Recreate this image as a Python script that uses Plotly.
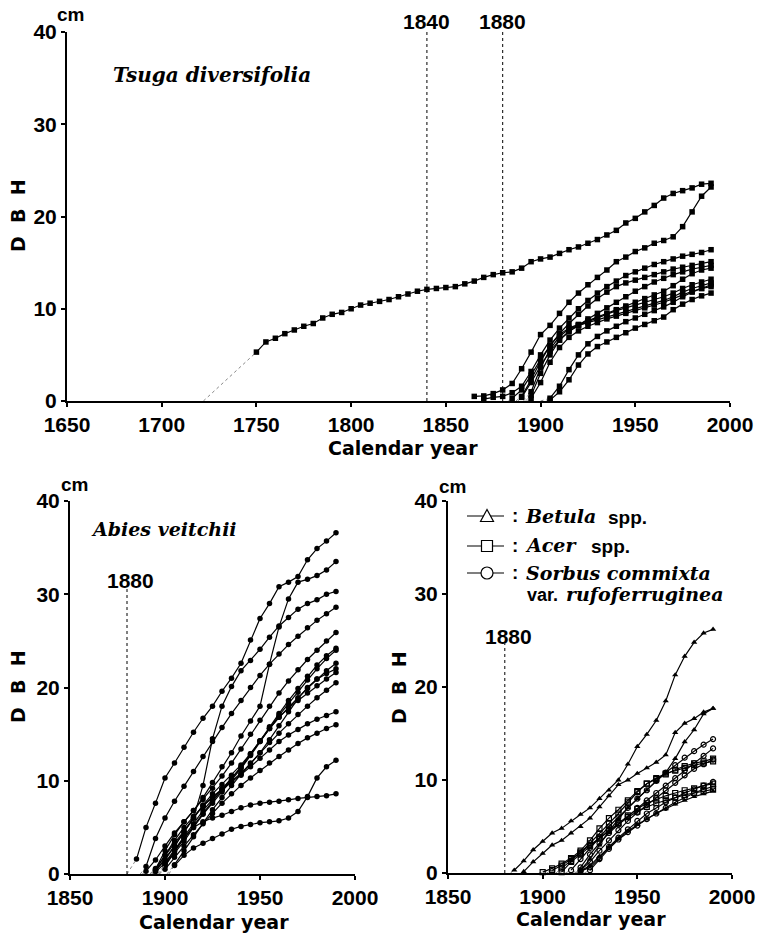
import plotly.graph_objects as go

W, H = 762, 935


def px(x):
    return x / W


def py(y):
    return 1 - y / H


# ---------------- DATA (DBH in cm, 5-year steps from the start year) ----------------
# Top panel: Tsuga diversifolia
TSUGA_START = [1750, 1865, 1870, 1885, 1890, 1890, 1895, 1895, 1895, 1905, 1905]
TSUGA_ORIGIN = [1722, None, None, 1883, 1888, 1887, 1892, 1891, 1893, 1903, 1900]
tsuga_1 = [5.3, 6.4, 6.8, 7.3, 7.7, 8.1, 8.4, 9.0, 9.4, 9.6, 10.0,
           10.4, 10.6, 10.8, 11.0, 11.3, 11.6, 11.9, 12.1, 12.2, 12.3,
           12.4, 12.7, 13.0, 13.4, 13.7, 13.9, 14.0, 14.4, 15.1, 15.4,
           15.6, 16.0, 16.4, 16.7, 17.1, 17.5, 18.0, 18.5, 19.3, 19.8,
           20.5, 21.2, 22.0, 22.5, 22.8, 23.1, 23.5, 23.6]
tsuga_2 = [0.5, 0.55, 0.8, 1.2, 1.9, 3.5, 5.3, 7.2, 8.2, 9.5, 10.7, 11.7, 12.6,
           13.4, 14.2, 15.1, 15.6, 16.2, 16.6, 17.1, 17.4, 17.8, 18.9, 20.5, 22.2, 23.2]
tsuga_3 = [0.2, 0.4, 0.5, 0.9, 1.6, 3.2, 5.0, 6.6, 7.9, 9.0, 10.0, 10.9, 11.7,
           12.4, 13.0, 13.6, 14.0, 14.4, 14.8, 15.1, 15.4, 15.7, 15.9, 16.1, 16.4]
tsuga_4 = [0.3, 1.2, 2.8, 4.5, 6.0, 7.3, 8.4, 9.4, 10.3, 11.1, 11.8, 12.4, 12.8,
           13.1, 13.4, 13.7, 14.0, 14.3, 14.5, 14.7, 14.9, 15.1]
tsuga_5 = [0.4, 2.0, 3.8, 5.4, 6.6, 7.5, 8.2, 8.9, 9.5, 10.1, 10.7, 11.3, 11.9,
           12.4, 12.9, 13.3, 13.7, 14.0, 14.3, 14.5, 14.7]
tsuga_6 = [0.5, 2.3, 4.3, 6.0, 7.2, 7.9, 8.3, 8.7, 9.1, 9.5, 9.9, 10.3, 10.7,
           11.1, 11.5, 11.9, 12.5, 13.2, 13.8, 14.2, 14.4]
tsuga_7 = [0.6, 3.0, 5.0, 6.6, 7.6, 8.2, 8.6, 9.0, 9.4, 9.8, 10.1, 10.4, 10.7,
           11.0, 11.3, 11.7, 12.2, 12.6, 12.9, 13.2]
tsuga_8 = [1.0, 3.6, 5.6, 7.0, 7.8, 8.2, 8.5, 8.8, 9.1, 9.4, 9.7, 10.0, 10.3,
           10.6, 10.9, 11.3, 11.8, 12.2, 12.5, 12.8]
tsuga_9 = [0.3, 2.0, 4.2, 5.8, 6.9, 7.6, 8.1, 8.5, 8.9, 9.2, 9.5, 9.8, 10.1,
           10.4, 10.7, 11.1, 11.5, 11.9, 12.2, 12.4]
tsuga_10 = [0.1, 1.0, 2.3, 3.9, 5.1, 5.9, 6.4, 6.9, 7.4, 7.9, 8.3, 8.7, 9.1,
            9.9, 10.5, 11.0, 11.4, 11.7]
tsuga_11 = [0.3, 1.6, 3.4, 5.0, 6.2, 7.0, 7.6, 8.1, 8.6, 9.0, 9.4, 9.8, 10.2,
            10.7, 11.3, 11.8, 12.2, 12.6]
TSUGA = [tsuga_1, tsuga_2, tsuga_3, tsuga_4, tsuga_5, tsuga_6, tsuga_7,
         tsuga_8, tsuga_9, tsuga_10, tsuga_11]

# Bottom-left panel: Abies veitchii
ABIES_START = [1885, 1890, 1895, 1890, 1895, 1895, 1895, 1900, 1895, 1900,
               1905, 1895, 1900, 1905, 1900]
ABIES_ORIGIN = [1880, 1888, 1893, 1887, 1892, 1894, 1892, 1896, 1894, 1896,
                1901, 1892, 1897, 1902, 1897]
abies_1 = [1.6, 5.0, 7.6, 10.3, 11.9, 13.6, 15.2, 16.7, 18.0, 19.6, 21.0,
           22.6, 25.1, 27.4, 29.0, 30.8, 31.3, 31.9, 33.7, 34.9, 35.7, 36.6]
abies_2 = [0.3, 1.5, 3.0, 4.4, 5.6, 6.8, 8.2, 9.8, 11.5, 13.0, 14.8, 16.4,
           18.0, 22.5, 26.5, 29.5, 31.3, 31.6, 32.0, 32.6, 33.5]
abies_3 = [0.4, 1.5, 3.0, 4.5, 6.0, 9.5, 14.5, 18.0, 20.1, 21.8, 22.9, 24.1,
           25.4, 26.6, 27.5, 28.4, 29.0, 29.4, 30.0, 30.3]
abies_4 = [0.8, 3.8, 6.0, 7.8, 9.4, 11.0, 12.6, 14.2, 15.7, 17.2, 18.6, 20.0,
           21.3, 22.5, 23.6, 24.6, 25.5, 26.4, 27.2, 27.9, 28.6]
abies_5 = [0.5, 2.5, 4.2, 5.6, 6.8, 8.0, 9.2, 10.5, 11.9, 13.4, 15.0, 16.5,
           18.0, 19.4, 20.7, 21.9, 23.0, 24.0, 25.0, 25.9]
abies_6 = [0.2, 1.2, 2.6, 4.0, 5.4, 6.8, 8.0, 9.1, 10.2, 11.4, 12.8, 14.3,
           15.8, 17.2, 18.6, 19.9, 21.2, 22.4, 23.4, 24.2]
abies_7 = [0.6, 2.0, 3.3, 4.6, 6.0, 7.4, 8.6, 9.6, 10.6, 11.7, 12.9, 14.2,
           15.6, 17.0, 18.3, 19.5, 20.8, 22.0, 23.1, 24.0]
abies_8 = [0.8, 2.4, 3.8, 5.2, 6.5, 7.8, 9.0, 10.2, 11.5, 12.9, 14.3, 15.6,
           16.8, 17.9, 18.9, 19.9, 20.9, 21.8, 22.6]
abies_9 = [0.3, 1.6, 3.0, 4.5, 6.0, 7.3, 8.3, 9.1, 9.9, 10.8, 11.8, 13.0,
           14.4, 15.9, 17.4, 18.8, 20.0, 20.9, 21.5, 22.0]
abies_10 = [1.0, 2.2, 3.5, 5.0, 6.4, 7.6, 8.8, 10.0, 11.3, 12.7, 14.2, 15.6,
            16.8, 17.8, 18.6, 19.4, 20.2, 20.9, 21.6]
abies_11 = [1.0, 2.5, 4.0, 5.5, 6.9, 8.2, 9.5, 10.7, 11.9, 13.0, 14.1, 15.1,
            16.1, 17.1, 18.0, 18.9, 19.7, 20.5]
abies_12 = [0.4, 2.0, 3.6, 5.0, 6.2, 7.3, 8.2, 9.0, 9.8, 10.6, 11.5, 12.4,
            13.3, 14.2, 14.9, 15.5, 16.1, 16.6, 17.0, 17.4]
abies_13 = [0.5, 1.8, 3.0, 4.2, 5.4, 6.5, 7.6, 8.6, 9.5, 10.3, 11.1, 11.9,
            12.6, 13.3, 14.0, 14.6, 15.1, 15.6, 16.0]
abies_14 = [0.9, 2.0, 2.8, 3.3, 3.8, 4.3, 4.8, 5.1, 5.3, 5.5, 5.6, 5.7, 6.0,
            6.7, 8.3, 10.3, 11.5, 12.2]
abies_15 = [1.1, 2.5, 3.9, 5.0, 5.6, 6.0, 6.3, 6.7, 7.1, 7.4, 7.6, 7.7, 7.8,
            7.95, 8.1, 8.2, 8.3, 8.4, 8.6]
ABIES = [abies_1, abies_2, abies_3, abies_4, abies_5, abies_6, abies_7, abies_8,
         abies_9, abies_10, abies_11, abies_12, abies_13, abies_14, abies_15]

# Bottom-right panel: broad-leaved trees
BETULA_START = [1885, 1890, 1920, 1920]
BETULA_ORIGIN = [1883, 1889, 1917, 1917]
betula_1 = [0.3, 1.3, 2.5, 3.4, 4.3, 4.8, 5.6, 6.3, 7.0, 8.0, 8.9, 10.0, 11.7,
            13.6, 14.9, 16.4, 18.5, 21.3, 23.3, 24.8, 25.8, 26.2]
betula_2 = [0.15, 1.2, 2.1, 3.0, 3.5, 4.3, 5.0, 5.9, 7.1, 8.3, 9.5, 10.0, 10.7,
            11.3, 11.9, 12.7, 15.1, 16.1, 16.6, 17.3, 17.7]
betula_3 = [0.3, 1.5, 3.0, 4.5, 5.8, 7.0, 8.0, 8.9, 9.8, 10.8, 12.3, 14.1,
            15.4, 17.1, 17.7]
betula_4 = [0.2, 0.8, 1.8, 2.8, 3.7, 4.5, 5.2, 5.8, 6.4, 6.9, 7.4, 7.8, 8.2,
            8.5, 8.8]
BETULA = [betula_1, betula_2, betula_3, betula_4]

ACER_START = [1900, 1905, 1910, 1910]
ACER_ORIGIN = [1898, 1902, 1909, 1907]
acer_1 = [0.1, 0.5, 1.0, 1.6, 2.4, 3.5, 4.8, 5.9, 6.8, 7.8, 8.8, 9.6, 10.1,
          10.6, 11.1, 11.5, 11.8, 12.0, 12.3]
acer_2 = [0.3, 0.8, 1.5, 2.2, 3.0, 3.8, 4.6, 5.4, 6.2, 6.9, 7.5, 7.9, 8.3,
          8.6, 8.9, 9.1, 9.4, 9.6]
acer_3 = [0.1, 1.2, 2.0, 2.9, 3.7, 4.5, 5.3, 6.0, 6.6, 7.1, 7.5, 7.8, 8.1,
          8.4, 8.6, 8.8, 9.0]
acer_4 = [0.5, 1.3, 2.2, 3.2, 4.2, 5.3, 6.4, 7.6, 8.7, 9.6, 10.2, 10.7, 11.0,
          11.3, 11.6, 11.8, 12.0]
ACER = [acer_1, acer_2, acer_3, acer_4]

SORBUS_START = [1915, 1920, 1920, 1920, 1925]
SORBUS_ORIGIN = [1912, 1916, 1917, 1918, 1922]
sorbus_1 = [0.3, 1.5, 2.7, 3.9, 5.0, 6.0, 7.0, 8.0, 8.9, 9.9, 10.8, 11.6,
            12.4, 13.1, 13.8, 14.4]
sorbus_2 = [0.6, 2.0, 3.2, 4.3, 5.2, 6.1, 7.0, 7.8, 8.6, 9.4, 10.2, 11.0,
            11.8, 12.6, 13.4]
sorbus_3 = [0.3, 1.2, 2.4, 3.5, 4.6, 5.6, 6.5, 7.3, 8.1, 8.9, 9.7, 10.5,
            11.2, 11.7, 12.2]
sorbus_4 = [0.2, 0.6, 1.6, 2.8, 3.8, 4.7, 5.6, 6.4, 7.0, 7.6, 8.1, 8.6, 9.0,
            9.4, 9.8]
sorbus_5 = [0.3, 1.5, 2.6, 3.6, 4.4, 5.1, 5.8, 6.4, 7.0, 7.6, 8.1, 8.6, 9.0, 9.3]
SORBUS = [sorbus_1, sorbus_2, sorbus_3, sorbus_4, sorbus_5]

TOP_XTICKS = [1650, 1700, 1750, 1800, 1850, 1900, 1950, 2000]
BOT_XTICKS = [1850, 1900, 1950, 2000]
YTICKS = [0, 10, 20, 30, 40]
STEP = 5

# ---------------- FIGURE ----------------
fig = go.Figure()


def add_series(xa, ya, start, vals, origin, symbol, size, mline=0.0):
    years = [start + STEP * i for i in range(len(vals))]
    if origin is not None:
        fig.add_trace(go.Scatter(
            x=[origin, years[0]], y=[0, vals[0]], xaxis=xa, yaxis=ya,
            mode="lines", line=dict(color="#888888", width=1, dash="dot"),
            hoverinfo="skip", showlegend=False, cliponaxis=False))
    fig.add_trace(go.Scatter(
        x=years, y=vals, xaxis=xa, yaxis=ya, mode="lines+markers",
        line=dict(color="black", width=1.2),
        marker=dict(symbol=symbol, size=size, color="black",
                    line=dict(color="black", width=mline)),
        showlegend=False, cliponaxis=False))


for s, o, v in zip(TSUGA_START, TSUGA_ORIGIN, TSUGA):
    add_series("x", "y", s, v, o, "square", 5.5)
for s, o, v in zip(ABIES_START, ABIES_ORIGIN, ABIES):
    add_series("x2", "y2", s, v, o, "circle", 5.5)
for s, o, v in zip(ACER_START, ACER_ORIGIN, ACER):
    add_series("x3", "y3", s, v, o, "square-open", 5, 1.2)
for s, o, v in zip(SORBUS_START, SORBUS_ORIGIN, SORBUS):
    add_series("x3", "y3", s, v, o, "circle-open", 5, 1.2)
for s, o, v in zip(BETULA_START, BETULA_ORIGIN, BETULA):
    add_series("x3", "y3", s, v, o, "triangle-up", 5.5)

SANS = "Liberation Sans, Arial, sans-serif"
SERIF = "DejaVu Serif, serif"
WIDE = "DejaVu Sans, sans-serif"

axis_common = dict(
    showline=True, linecolor="black", linewidth=2, ticks="outside",
    ticklen=4, tickwidth=1.5, tickcolor="black", showgrid=False,
    zeroline=False, fixedrange=True, automargin=False,
    tickfont=dict(family=SANS, size=21, color="black", weight="bold"),
)

fig.update_layout(
    width=W, height=H, margin=dict(l=0, r=0, t=0, b=0, autoexpand=False),
    paper_bgcolor="white", plot_bgcolor="white", showlegend=False,
    xaxis=dict(domain=[px(67), px(730)], range=[1650, 2000],
               tickvals=TOP_XTICKS, anchor="y", **axis_common),
    yaxis=dict(domain=[py(401), py(32)], range=[0, 40],
               tickvals=YTICKS, anchor="x", **axis_common),
    xaxis2=dict(domain=[px(70), px(355)], range=[1850, 2000],
                tickvals=BOT_XTICKS, anchor="y2", **axis_common),
    yaxis2=dict(domain=[py(874), py(501)], range=[0, 40],
                tickvals=YTICKS, anchor="x2", **axis_common),
    xaxis3=dict(domain=[px(448), px(732)], range=[1850, 2000],
                tickvals=BOT_XTICKS, anchor="y3", **axis_common),
    yaxis3=dict(domain=[py(873), py(501)], range=[0, 40],
                tickvals=YTICKS, anchor="x3", **axis_common),
)

# reference year lines
dot = dict(color="black", width=1, dash="dot")
fig.add_shape(type="line", xref="x", yref="y", x0=1840, x1=1840, y0=0, y1=40, line=dot)
fig.add_shape(type="line", xref="x", yref="y", x0=1880, x1=1880, y0=0, y1=40, line=dot)
fig.add_shape(type="line", xref="x2", yref="y2", x0=1880, x1=1880, y0=0, y1=30.6, line=dot)
fig.add_shape(type="line", xref="x3", yref="y3", x0=1880, x1=1880, y0=0, y1=24.7, line=dot)


def ann(text, x, y, size=20, family=SANS, xanchor="center", angle=0,
        italic=False, xref="paper", yref="paper", bold=True):
    fig.add_annotation(
        text=text, x=x, y=y, xref=xref, yref=yref, xanchor=xanchor,
        yanchor="middle", showarrow=False, textangle=angle, borderpad=0,
        font=dict(family=family, size=size, color="black",
                  weight="bold" if bold else "normal",
                  style="italic" if italic else "normal"))


# year labels
ann("1840", 1840, py(21.5), size=21, xref="x")
ann("1880", 1880, py(21.5), size=21, xref="x")
ann("1880", px(130), py(580), size=21)
ann("1880", px(508), py(636), size=21)

# cm units
ann("cm", px(70), py(15), size=19)
ann("cm", px(74), py(485), size=19)
ann("cm", px(452), py(486), size=19)

# axis titles
ann("D  B  H", px(18), py(216), size=19, angle=-90, family=WIDE)
ann("D  B  H", px(18), py(687), size=19, angle=-90, family=WIDE)
ann("D  B  H", px(399), py(687), size=19, angle=-90, family=WIDE)
ann("Calendar year", px(403), py(448), size=19, family=WIDE)
ann("Calendar year", px(214), py(922), size=19, family=WIDE)
ann("Calendar year", px(591), py(919), size=19, family=WIDE)

# species names
ann("Tsuga diversifolia", px(112), py(75), size=20, family=SERIF, xanchor="left", italic=True)
ann("Abies veitchii", px(90), py(529), size=19, family=SERIF, xanchor="left", italic=True)

# legend (bottom-right)
LEG_ROWS = [516, 546, 573]
for yy in LEG_ROWS:
    fig.add_shape(type="line", xref="paper", yref="paper", x0=px(467), x1=px(504),
                  y0=py(yy), y1=py(yy), line=dict(color="black", width=1.2))
    ann(":", px(515), py(yy - 1), size=19)
fig.add_shape(type="path", xref="paper", yref="paper",
              path=f"M {px(487)} {py(509.5)} L {px(480.5)} {py(521.5)} L {px(493.5)} {py(521.5)} Z",
              fillcolor="white", line=dict(color="black", width=1.2))
fig.add_shape(type="rect", xref="paper", yref="paper", x0=px(481.5), x1=px(492.5),
              y0=py(551.5), y1=py(540.5), fillcolor="white",
              line=dict(color="black", width=1.2))
fig.add_shape(type="circle", xref="paper", yref="paper", x0=px(481), x1=px(493),
              y0=py(579), y1=py(567), fillcolor="white",
              line=dict(color="black", width=1.2))

ann("Betula", px(524), py(516), size=19, family=SERIF, xanchor="left", italic=True)
ann("spp.", px(607), py(517), size=19, xanchor="left")
ann("Acer", px(524), py(545), size=19, family=SERIF, xanchor="left", italic=True)
ann("spp.", px(590), py(546), size=19, xanchor="left")
ann("Sorbus commixta", px(525), py(573), size=19, family=SERIF, xanchor="left", italic=True)
ann("var.", px(526), py(595), size=18, xanchor="left")
ann("rufoferruginea", px(565), py(594), size=19, family=SERIF, xanchor="left", italic=True)

fig.write_html("out.html", post_script="document.body.style.margin='0';",
               config={"displayModeBar": False})
